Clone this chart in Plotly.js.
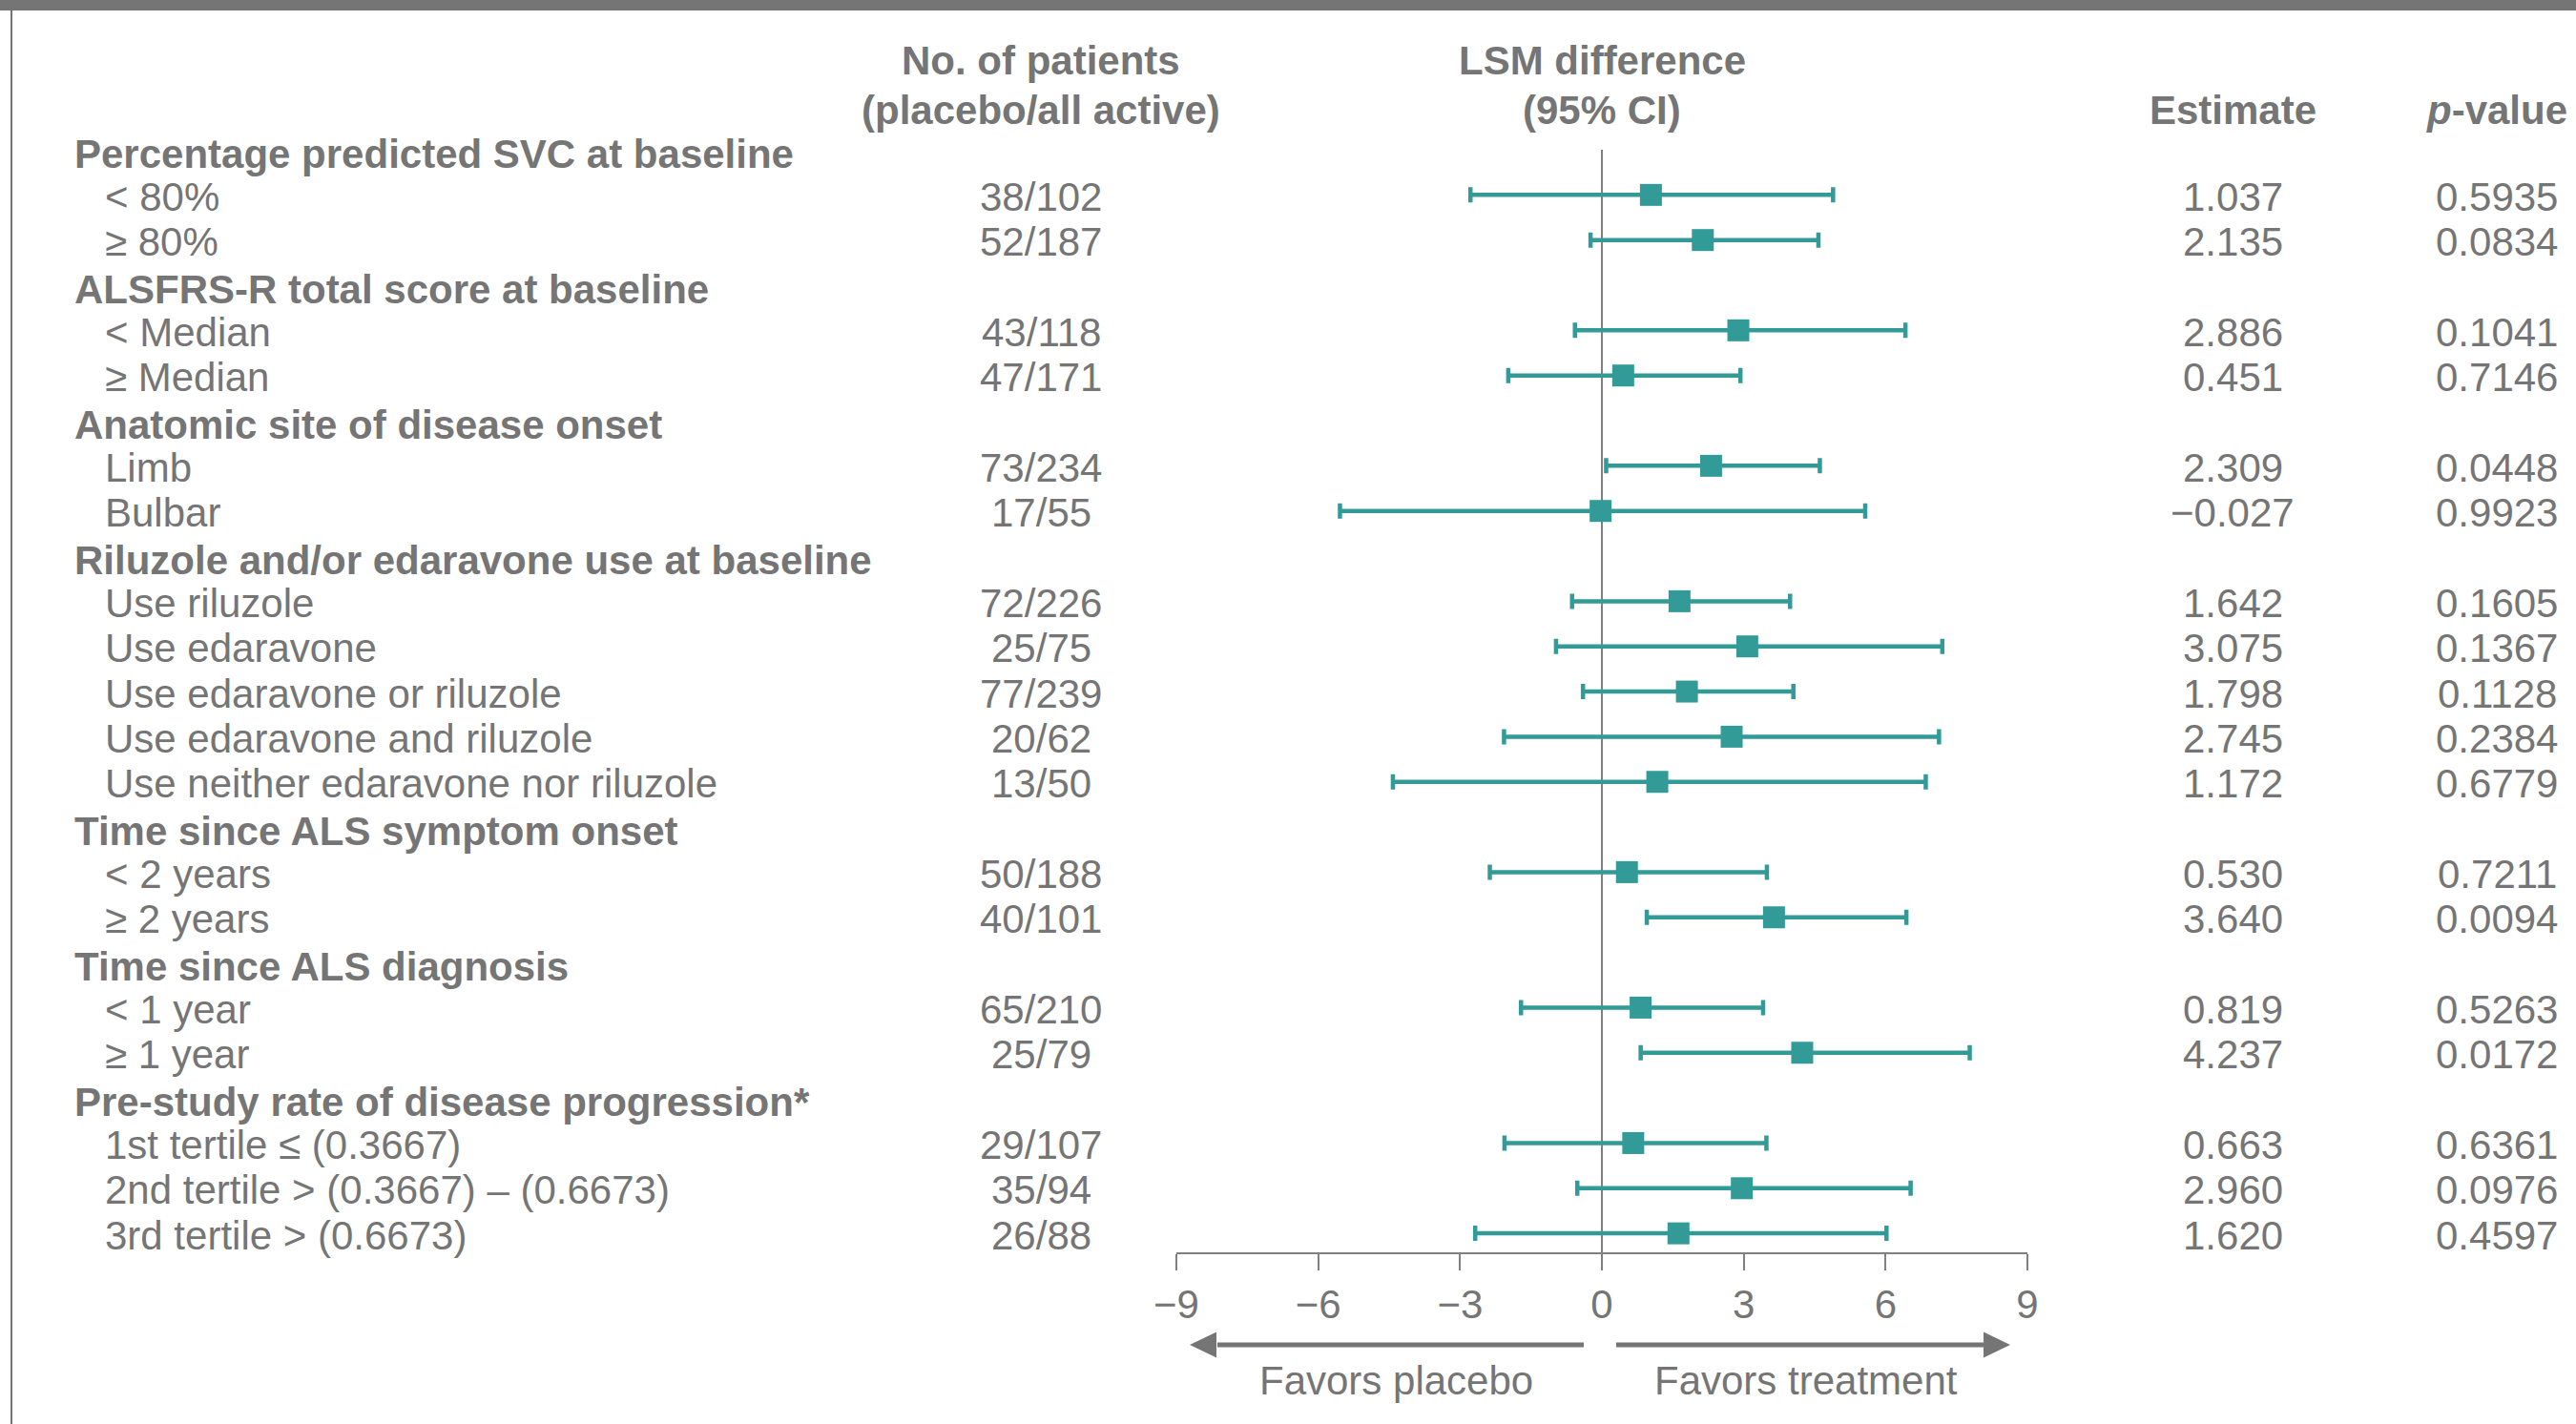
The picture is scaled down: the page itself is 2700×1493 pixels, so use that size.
<!DOCTYPE html>
<html>
<head>
<meta charset="utf-8">
<script src="https://cdn.plot.ly/plotly-3.0.1.min.js"></script>
<style>
  html, body { margin: 0; padding: 0; background: #ffffff; }
  #chart { width: 2700px; height: 1493px; }
</style>
</head>
<body>
<div id="chart"></div>
<script>
// ---------------- DATA ----------------
const rowLabels = [
  "Percentage predicted SVC at baseline", "< 80%", "≥ 80%",
  "ALSFRS-R total score at baseline", "< Median", "≥ Median",
  "Anatomic site of disease onset", "Limb", "Bulbar",
  "Riluzole and/or edaravone use at baseline", "Use riluzole", "Use edaravone",
  "Use edaravone or riluzole", "Use edaravone and riluzole", "Use neither edaravone nor riluzole",
  "Time since ALS symptom onset", "< 2 years", "≥ 2 years",
  "Time since ALS diagnosis", "< 1 year", "≥ 1 year",
  "Pre-study rate of disease progression*", "1st tertile ≤ (0.3667)",
  "2nd tertile > (0.3667) – (0.6673)", "3rd tertile > (0.6673)"
];
const isHeader = [1,0,0, 1,0,0, 1,0,0, 1,0,0,0,0,0, 1,0,0, 1,0,0, 1,0,0,0];
const patients = [null,"38/102","52/187", null,"43/118","47/171", null,"73/234","17/55",
  null,"72/226","25/75","77/239","20/62","13/50", null,"50/188","40/101",
  null,"65/210","25/79", null,"29/107","35/94","26/88"];
const estimate = [null,1.037,2.135, null,2.886,0.451, null,2.309,-0.027,
  null,1.642,3.075,1.798,2.745,1.172, null,0.530,3.640,
  null,0.819,4.237, null,0.663,2.960,1.620];
const ciLower = [null,-2.78,-0.24, null,-0.57,-1.98, null,0.09,-5.54,
  null,-0.63,-0.97,-0.40,-2.07,-4.42, null,-2.37,0.95,
  null,-1.71,0.82, null,-2.06,-0.52,-2.68];
const ciUpper = [null,4.89,4.58, null,6.42,2.93, null,4.61,5.57,
  null,3.98,7.20,4.05,7.13,6.85, null,3.49,6.44,
  null,3.41,7.78, null,3.48,6.53,6.02];
const pValues = [null,"0.5935","0.0834", null,"0.1041","0.7146", null,"0.0448","0.9923",
  null,"0.1605","0.1367","0.1128","0.2384","0.6779", null,"0.7211","0.0094",
  null,"0.5263","0.0172", null,"0.6361","0.0976","0.4597"];
const colHeaders = {
  patients: ["No. of patients", "(placebo/all active)"],
  lsm: ["LSM difference", "(95% CI)"],
  estimate: "Estimate",
  pvalue: "<i>p</i>-value"
};
const favorLabels = ["Favors placebo", "Favors treatment"];
const xTicks = [-9,-6,-3,0,3,6,9];
const xRange = [-9, 9];

// ---------------- LAYOUT HELPERS ----------------
const W = 2700, H = 1493;
const M = {l: 1233, r: 575, t: 157, b: 180};
const PW = W - M.l - M.r, PH = H - M.t - M.b;
const NROWS = rowLabels.length;
const yBottom = 24.42;
const pxX = px => (px - M.l) / PW;               // pixel x -> paper x
const pxY = py => (H - M.b - py) / PH;           // pixel y -> paper y

const GREY = "#757575";
const TEAL = "#339b97";
const FONT = "Liberation Sans, Arial, Helvetica, sans-serif";
const FS = 42;

// ---------------- TRACE ----------------
const ys = [], xs = [], ep = [], em = [];
for (let i = 0; i < NROWS; i++) {
  if (estimate[i] === null) continue;
  ys.push(i); xs.push(estimate[i]);
  ep.push(ciUpper[i] - estimate[i]);
  em.push(estimate[i] - ciLower[i]);
}
const trace = {
  type: "scatter", mode: "markers", x: xs, y: ys,
  marker: {symbol: "square", size: 23, color: TEAL, line: {width: 0}},
  error_x: {type: "data", symmetric: false, array: ep, arrayminus: em,
            color: TEAL, thickness: 4.5, width: 8},
  cliponaxis: false, hoverinfo: "skip", showlegend: false
};

// ---------------- ANNOTATIONS ----------------
const ann = [];
const txt = (text, x, y, xanchor, yref, yshift) => ({
  text: text, x: x, y: y, xref: "paper", yref: yref || "y", xanchor: xanchor, yanchor: "middle",
  yshift: yshift || 0,
  showarrow: false, font: {family: FONT, size: FS, color: GREY}
});
const fmtEst = v => v.toFixed(3).replace("-", "\u2212");

for (let i = 0; i < NROWS; i++) {
  if (isHeader[i]) {
    ann.push(txt("<b>" + rowLabels[i] + "</b>", pxX(76), i, "left", "y", -4));
  } else {
    ann.push(txt(rowLabels[i], pxX(108), i, "left", "y", -2));
    ann.push(txt(patients[i], pxX(1091), i, "center", "y", -2));
    ann.push(txt(fmtEst(estimate[i]), pxX(2340), i, "center", "y", -2));
    ann.push(txt(pValues[i], pxX(2617), i, "center", "y", -2));
  }
}
// column headers (paper-referenced so they are drawn above the plot area)
ann.push(txt("<b>" + colHeaders.patients[0] + "</b>", pxX(1091), pxY(64), "center", "paper"));
ann.push(txt("<b>" + colHeaders.patients[1] + "</b>", pxX(1091), pxY(115), "center", "paper"));
ann.push(txt("<b>" + colHeaders.lsm[0] + "</b>", pxX(1679), pxY(64), "center", "paper"));
ann.push(txt("<b>" + colHeaders.lsm[1] + "</b>", pxX(1679), pxY(115), "center", "paper"));
ann.push(txt("<b>" + colHeaders.estimate + "</b>", pxX(2340), pxY(115), "center", "paper"));
ann.push(txt("<b>" + colHeaders.pvalue + "</b>", pxX(2617), pxY(115), "center", "paper"));
// favors labels
ann.push(txt(favorLabels[0], pxX(1463), pxY(1447), "center", "paper"));
ann.push(txt(favorLabels[1], pxX(1893), pxY(1447), "center", "paper"));

// ---------------- SHAPES ----------------
const arrowY = pxY(1410);
const headH = 13.5 / PH;
const shapes = [
  // top bar
  {type: "rect", xref: "paper", yref: "paper", x0: pxX(0), x1: pxX(W), y0: pxY(11), y1: pxY(0),
   fillcolor: GREY, line: {width: 0}},
  // left frame line
  {type: "rect", xref: "paper", yref: "paper", x0: pxX(11), x1: pxX(13), y0: pxY(H), y1: pxY(10),
   fillcolor: GREY, line: {width: 0}},
  // left arrow shaft + head
  {type: "line", xref: "paper", yref: "paper", x0: pxX(1660), x1: pxX(1276), y0: arrowY, y1: arrowY,
   line: {color: GREY, width: 5}},
  {type: "path", xref: "paper", yref: "paper",
   path: `M ${pxX(1247)} ${arrowY} L ${pxX(1275)} ${arrowY + headH} L ${pxX(1275)} ${arrowY - headH} Z`,
   fillcolor: GREY, line: {width: 0}},
  // right arrow shaft + head
  {type: "line", xref: "paper", yref: "paper", x0: pxX(1694), x1: pxX(2080), y0: arrowY, y1: arrowY,
   line: {color: GREY, width: 5}},
  {type: "path", xref: "paper", yref: "paper",
   path: `M ${pxX(2107)} ${arrowY} L ${pxX(2079)} ${arrowY + headH} L ${pxX(2079)} ${arrowY - headH} Z`,
   fillcolor: GREY, line: {width: 0}}
];

const layout = {
  width: W, height: H,
  margin: M,
  paper_bgcolor: "#ffffff", plot_bgcolor: "#ffffff",
  showlegend: false,
  font: {family: FONT, size: FS, color: GREY},
  xaxis: {
    range: xRange, tickvals: xTicks, ticktext: xTicks.map(v => v < 0 ? "\u2212" + Math.abs(v) : String(v)),
    ticks: "outside", ticklen: 17, tickwidth: 2, tickcolor: "#808080",
    showline: true, linecolor: "#808080", linewidth: 2,
    zeroline: true, zerolinecolor: "#808080", zerolinewidth: 2,
    showgrid: false, fixedrange: true,
    tickfont: {family: FONT, size: FS, color: GREY}
  },
  yaxis: {range: [yBottom, 0], visible: false, showgrid: false, zeroline: false, fixedrange: true},
  annotations: ann,
  shapes: shapes
};

Plotly.newPlot("chart", [trace], layout, {staticPlot: true, displayModeBar: false});
</script>
</body>
</html>
